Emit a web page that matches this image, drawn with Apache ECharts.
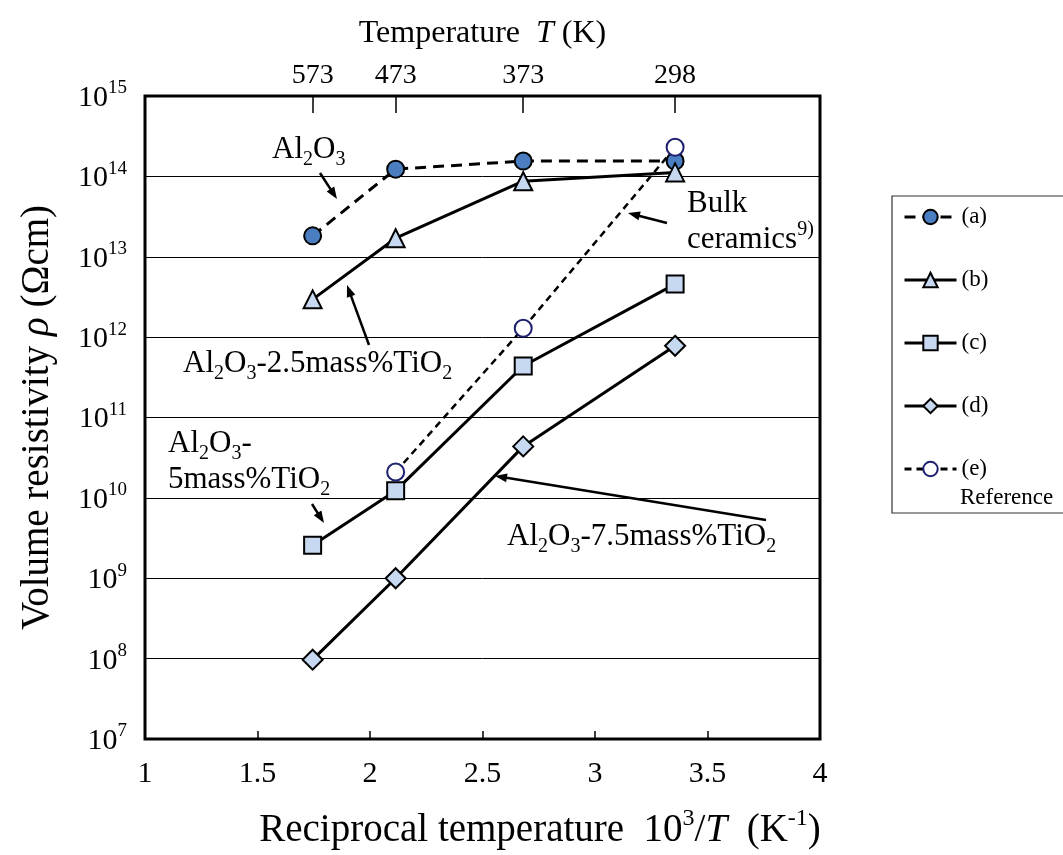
<!DOCTYPE html>
<html><head><meta charset="utf-8">
<script src="https://cdn.jsdelivr.net/npm/echarts@6/dist/echarts.min.js"></script>
<style>html,body{margin:0;padding:0;background:#fff}#c{width:1063px;height:855px}</style>
</head><body><div id="c"></div>
<script>
// ---- data ----
const temperatures = [573, 473, 373, 298];            // K (top axis)
const reciprocalT = [1.745, 2.114, 2.681, 3.356];      // 10^3/T
const seriesNames = ['(a)', '(b)', '(c)', '(d)', '(e)'];
const resA = [1.82e13, 1.23e14, 1.55e14, 1.55e14];
const resB = [2.95e12, 1.7e13, 8.7e13, 1.12e14];
const resC = [2.57e9, 1.23e10, 4.37e11, 4.57e12];
const resD = [9.7e7, 1.0e9, 4.37e10, 7.8e11];
const resE = [null, 2.1e10, 1.29e12, 2.3e14];
const xTickLabels = [1, 1.5, 2, 2.5, 3, 3.5, 4];

const FONT = 'Liberation Serif';
const pairs = arr => reciprocalT.map((x, i) => [x, arr[i]]).filter(p => p[1] != null);

const supRich = (F) => ({
  n: {fontFamily: FONT, fontSize: F, color: '#000', lineHeight: F + 4, verticalAlign: 'bottom'},
  i: {fontFamily: FONT, fontSize: F, color: '#000', fontStyle: 'italic', lineHeight: F + 4, verticalAlign: 'bottom'},
  s: {fontFamily: FONT, fontSize: Math.round(F * 0.62), color: '#000', lineHeight: F + 4, verticalAlign: 'top'}
});

const lightFill = '#C6D9F1';
const mk = (name, data, symbol, size, fill, border, dashed, dash, lw) => ({
  name, type: 'line', data: pairs(data), symbol, symbolSize: size,
  showSymbol: true, connectNulls: false, z: 3,
  lineStyle: {color: '#000', width: lw, type: dashed ? dash : 'solid'},
  itemStyle: {color: fill, borderColor: border, borderWidth: 2},
  emphasis: {disabled: true}
});

const chart = echarts.init(document.getElementById('c'), null, {renderer: 'canvas'});
const option = {
  backgroundColor: '#fff',
  animation: false,
  grid: {left: 145, top: 96, width: 675, height: 645, show: true, borderColor: '#000', borderWidth: 3, backgroundColor: 'transparent'},
  legend: {
    orient: 'vertical', left: 892, top: 196,
    padding: [9, 80, 32, 11],
    borderColor: '#333', borderWidth: 1.2,
    itemWidth: 52, itemHeight: 18, itemGap: 39,
    lineStyle: {width: 3},
    textStyle: {fontFamily: FONT, fontSize: 23, color: '#000', lineHeight: 24},
    data: seriesNames, selectedMode: false
  },
  xAxis: [{
    type: 'value', position: 'bottom', min: 1, max: 4, interval: 0.5,
    axisLine: {show: false},
    axisTick: {show: true, inside: true, length: 8, lineStyle: {color: '#000', width: 1.5}},
    splitLine: {show: false},
    axisLabel: {fontFamily: FONT, fontSize: 30, color: '#000', margin: 20,
      formatter: v => { const t = xTickLabels.find(u => Math.abs(u - v) < 1e-6); return t == null ? '' : String(t); }},
    name: '{n|Reciprocal temperature  10}{s|3}{n|/}{i|T}{n|  (K}{s|-1}{n|)}',
    nameLocation: 'middle', nameGap: 68,
    nameTextStyle: {rich: supRich(39), padding: [0, 0, 0, 115]}
  }, {
    type: 'value', position: 'top', min: 1, max: 4,
    axisLine: {show: false},
    axisTick: {show: true, inside: true, length: 17, customValues: reciprocalT, lineStyle: {color: '#000', width: 1.5}},
    splitLine: {show: false},
    axisLabel: {show: true, customValues: reciprocalT, fontFamily: FONT, fontSize: 28, color: '#000', margin: 6,
      formatter: v => {
        let bi = 0, bd = 1e9;
        reciprocalT.forEach((r, i) => { const d = Math.abs(r - v); if (d < bd) { bd = d; bi = i; } });
        return String(temperatures[bi]);
      }},
    name: '{n|Temperature  }{i|T}{n| (K)}',
    nameLocation: 'middle', nameGap: 46,
    nameTextStyle: {rich: supRich(32)}
  }],
  yAxis: {
    type: 'log', logBase: 10, min: 1e7, max: 1e15, splitNumber: 8,
    axisLine: {show: false},
    axisTick: {show: false},
    splitLine: {show: true, lineStyle: {color: '#000', width: 1}},
    axisLabel: {margin: 18,
      formatter: v => '{b|10}{s|' + Math.round(Math.log10(v)) + '}',
      rich: {
        b: {fontFamily: FONT, fontSize: 30, color: '#000', lineHeight: 34, verticalAlign: 'bottom'},
        s: {fontFamily: FONT, fontSize: 19, color: '#000', lineHeight: 34, verticalAlign: 'top'}
      }},
    name: '{n|Volume resistivity }{i|ρ}{n| (Ωcm)}',
    nameLocation: 'middle', nameGap: 88,
    nameTextStyle: {rich: supRich(39)}
  },
  series: [
    mk('(a)', resA, 'circle', 17, '#4A7EC0', '#000', true, [11, 7], 3),
    mk('(b)', resB, 'triangle', 18, lightFill, '#000', false, null, 3),
    mk('(c)', resC, 'rect', 17, lightFill, '#000', false, null, 3),
    mk('(d)', resD, 'diamond', 20, lightFill, '#000', false, null, 3),
    mk('(e)', resE, 'circle', 17, '#fff', '#1F2070', true, [7, 5], 2.5)
  ]
};
chart.setOption(option);

// ---- annotations (text + arrows, pixel layout) ----
const annRich = {
  n: {fontFamily: FONT, fontSize: 31, color: '#000', lineHeight: 31, verticalAlign: 'middle'},
  d: {fontFamily: FONT, fontSize: 20, color: '#000', lineHeight: 40, verticalAlign: 'bottom'},
  u: {fontFamily: FONT, fontSize: 20, color: '#000', lineHeight: 40, verticalAlign: 'top'}
};
const annTexts = [
  ['{n|Al}{d|2}{n|O}{d|3}', 272, 150],
  ['{n|Al}{d|2}{n|O}{d|3}{n|-2.5mass%TiO}{d|2}', 183, 364],
  ['{n|Bulk}', 687, 204],
  ['{n|ceramics}{u|9)}', 687, 240],
  ['{n|Al}{d|2}{n|O}{d|3}{n|-}', 168, 444],
  ['{n|5mass%TiO}{d|2}', 168, 480],
  ['{n|Al}{d|2}{n|O}{d|3}{n|-7.5mass%TiO}{d|2}', 507, 537]
];
const annArrows = [
  [320, 173, 337, 199],
  [369, 345, 347, 285],
  [667, 223, 628, 213],
  [312, 504, 324, 523],
  [766, 520, 495, 476]
];
function arrowEls(x1, y1, x2, y2) {
  const dx = x2 - x1, dy = y2 - y1, len = Math.hypot(dx, dy), ux = dx / len, uy = dy / len;
  const hl = 12, hw = 4.5;
  const bx = x2 - ux * hl, by = y2 - uy * hl;
  return [
    {type: 'line', z: 10, shape: {x1, y1, x2: bx + ux * 2, y2: by + uy * 2}, style: {stroke: '#000', lineWidth: 2.5}},
    {type: 'polygon', z: 10, shape: {points: [[x2, y2], [bx - uy * hw, by + ux * hw], [bx + uy * hw, by - ux * hw]]}, style: {fill: '#000'}}
  ];
}
const graphics = [];
annTexts.forEach(([t, x, y]) => graphics.push({type: 'text', z: 10, style: {text: t, x, y, rich: annRich, verticalAlign: 'middle', align: 'left'}}));
annArrows.forEach(a => arrowEls(...a).forEach(e => graphics.push(e)));
graphics.push({type: 'text', z: 10, style: {text: 'Reference', x: 960, y: 498, fontFamily: FONT, fontSize: 23, fill: '#000', verticalAlign: 'middle', align: 'left'}});
chart.setOption({graphic: graphics});
</script>
</body></html>
